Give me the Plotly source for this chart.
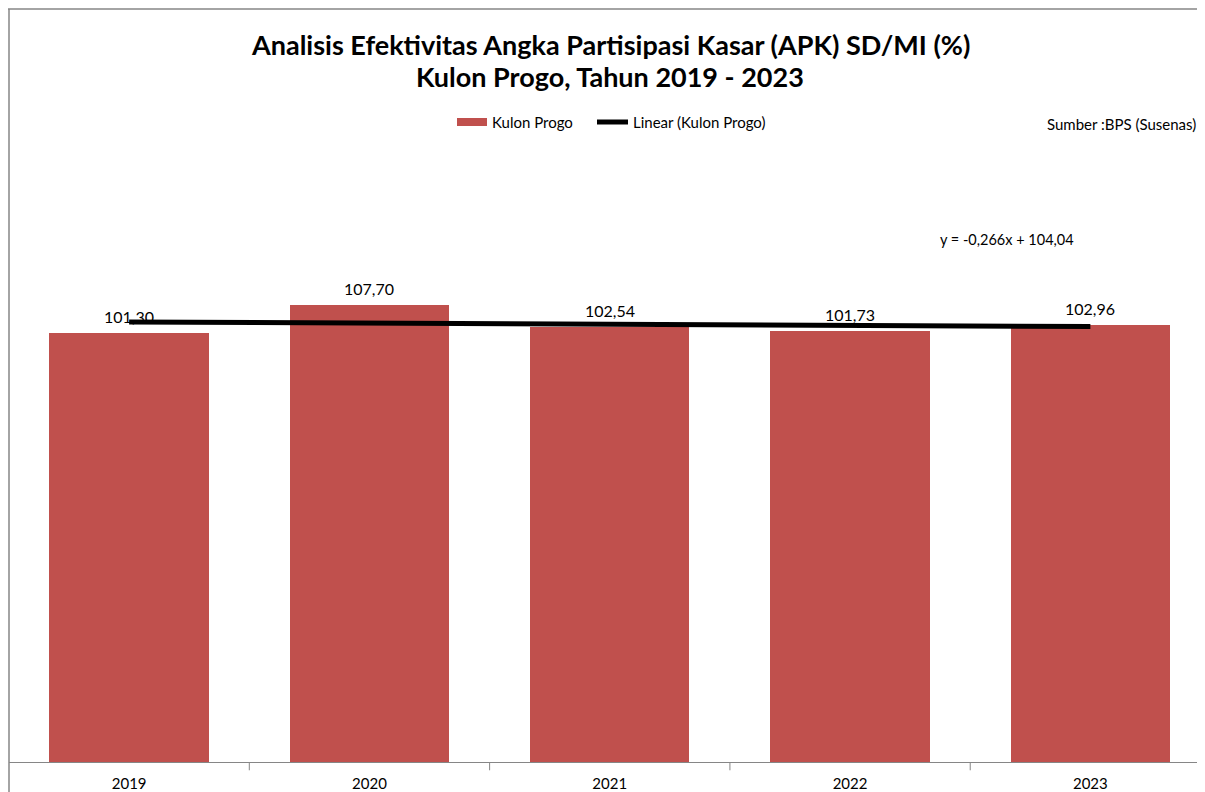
import plotly.graph_objects as go

years = ["2019", "2020", "2021", "2022", "2023"]
apk = [101.30, 107.70, 102.54, 101.73, 102.96]
# Linear trend values read from y = -0,266x + 104,04
trend = [103.774, 103.508, 103.242, 102.976, 102.710]
labels = ["101,30", "107,70", "102,54", "101,73", "102,96"]

xpos = list(range(len(years)))

# page body adds an 8px offset; plot area on screen spans x 9..1205, y 9..762
PX0, PX1, PY0, PY1 = 9, 1205, 9, 762


def px(sx):
    return (sx - PX0) / (PX1 - PX0)


def py(sy):
    return (PY1 - sy) / (PY1 - PY0)


FONT = "Lato, Carlito, sans-serif"

fig = go.Figure()
fig.add_trace(go.Bar(
    x=xpos, y=apk, name="Kulon Progo",
    marker=dict(color="#C0504D", line=dict(width=0)),
    width=0.663,
    showlegend=False,
))
fig.add_trace(go.Scatter(
    x=xpos, y=trend, name="Linear (Kulon Progo)", mode="lines",
    line=dict(color="#000000", width=5),
    showlegend=False,
))

# data labels above bars
for xi, yi, lab in zip(xpos, apk, labels):
    fig.add_annotation(x=xi, y=yi, text=lab, showarrow=False, xanchor="center",
                       yanchor="bottom", yshift=5,
                       font=dict(family=FONT, size=16, color="#000000"))

fig.update_layout(
    width=1197, height=784,
    margin=dict(l=1, r=0, t=1, b=30),
    paper_bgcolor="white", plot_bgcolor="white",
    separators=",.",
    showlegend=False,
    xaxis=dict(range=[-0.5, 4.477], tickmode="array", tickvals=xpos, ticktext=years,
               showgrid=False, showline=True, linecolor="#868686", linewidth=1,
               ticks="", zeroline=False, ticklabelstandoff=8,
               tickfont=dict(family=FONT, size=15, color="#000000")),
    yaxis=dict(range=[0, 177.6], showgrid=False, showticklabels=False, zeroline=False,
               showline=False, ticks=""),
    bargap=0,
)

# category tick marks between categories
for b in [0.5, 1.5, 2.5, 3.5]:
    fig.add_shape(type="line", xref="x", yref="paper", x0=b, x1=b, y0=0, y1=-0.011,
                  line=dict(color="#868686", width=1))

# chart border lines (left and top)
fig.add_shape(type="line", xref="paper", yref="paper", x0=0, x1=0, y0=-0.06, y1=1,
              line=dict(color="#868686", width=1.5))
fig.add_shape(type="line", xref="paper", yref="paper", x0=-0.001, x1=1, y0=1, y1=1,
              line=dict(color="#868686", width=1.5))

# legend (drawn manually to match the wide swatches)
fig.add_shape(type="rect", xref="paper", yref="paper", x0=px(457), x1=px(487),
              y0=py(126), y1=py(118), fillcolor="#C0504D", line=dict(width=0))
fig.add_annotation(text="Kulon Progo", xref="paper", yref="paper", x=px(490), y=py(122),
                   xanchor="left", yanchor="middle", showarrow=False,
                   font=dict(family=FONT, size=15, color="#000000"))
fig.add_shape(type="line", xref="paper", yref="paper", x0=px(597), x1=px(628),
              y0=py(122), y1=py(122), line=dict(color="#000000", width=5))
fig.add_annotation(text="Linear (Kulon Progo)", xref="paper", yref="paper", x=px(631), y=py(122),
                   xanchor="left", yanchor="middle", showarrow=False,
                   font=dict(family=FONT, size=15, color="#000000"))

fig.add_annotation(
    text="<b>Analisis Efektivitas Angka Partisipasi Kasar (APK) SD/MI (%)</b>",
    xref="paper", yref="paper", x=px(610), y=py(45), xanchor="center", yanchor="middle",
    showarrow=False, font=dict(family=FONT, size=27, color="#000000"),
)
fig.add_annotation(
    text="<b>Kulon Progo, Tahun 2019 - 2023</b>",
    xref="paper", yref="paper", x=px(610), y=py(76), xanchor="center", yanchor="middle",
    showarrow=False, font=dict(family=FONT, size=27, color="#000000"),
)
fig.add_annotation(
    text="Sumber :BPS (Susenas)", xref="paper", yref="paper",
    x=px(1198), y=py(124), xanchor="right", yanchor="middle",
    showarrow=False, font=dict(family=FONT, size=15, color="#000000"),
)
fig.add_annotation(
    text="y = -0,266x + 104,04", xref="paper", yref="paper",
    x=px(1007), y=py(240), xanchor="center", yanchor="middle",
    showarrow=False, font=dict(family=FONT, size=14.5, color="#000000"),
)

fig.write_html("out.html")
